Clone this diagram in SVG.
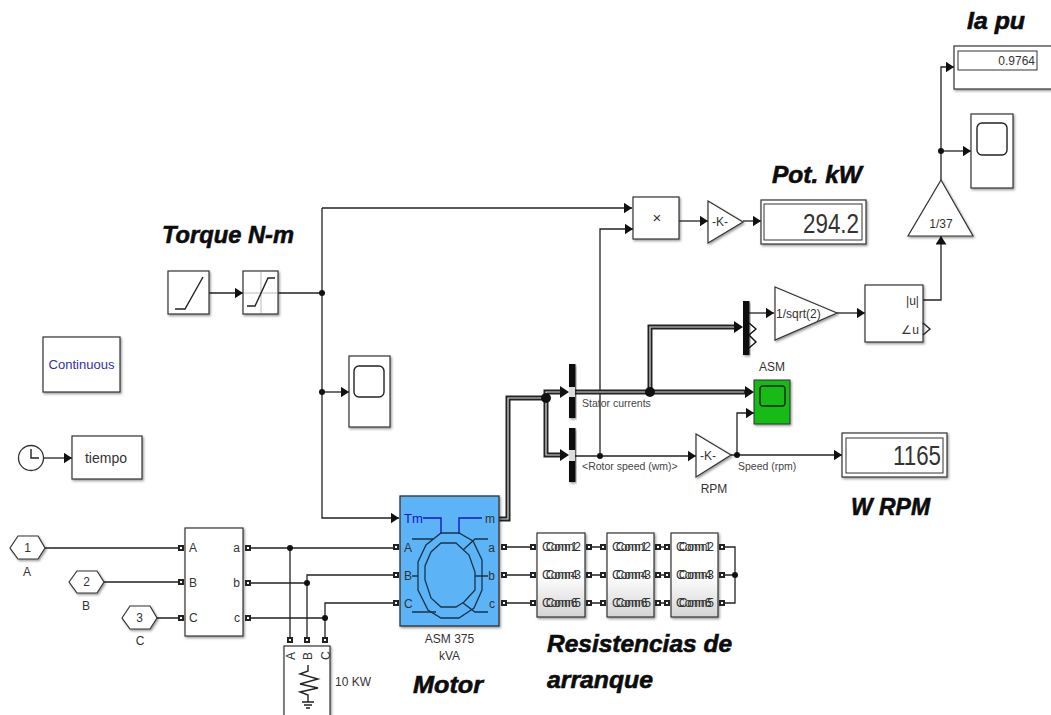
<svg xmlns="http://www.w3.org/2000/svg" width="1051" height="715" viewBox="0 0 1051 715">
<defs>
<marker id="a" markerUnits="userSpaceOnUse" markerWidth="9" markerHeight="11" refX="8.500" refY="5.500" orient="auto"><path d="M0 0L8.500 5.500L0 11Z" fill="#111"/></marker>
<filter id="s" x="-10%" y="-10%" width="125%" height="125%"><feDropShadow dx="1.200" dy="1.500" stdDeviation="1" flood-color="#000" flood-opacity=".4"/></filter>
<linearGradient id="g" x1="0" y1="0" x2="0" y2="1"><stop offset=".5" stop-color="#fff"/><stop offset="1" stop-color="#d4d4d4"/></linearGradient>
<g id="port"><rect x="-3" y="-3" width="6" height="6" fill="#222"/><rect x="-1" y="-1" width="2" height="2" fill="#fff"/></g>
</defs>
<style>
text{font-family:"Liberation Sans",Arial,sans-serif;fill:#333}
.b{fill:#fff;stroke:#333;stroke-width:1.200;filter:url(#s)}
.w{fill:none;stroke:#222;stroke-width:1.300}
.bus{fill:none;stroke:#222;stroke-width:5}
.bus2{fill:none;stroke:#ddd;stroke-width:1.200}
.t{font-size:12px}
.s{font-size:10.500px;fill:#444}
.h{font-weight:700;font-style:italic;font-size:24px;fill:#0c0c0c;stroke:#0c0c0c;stroke-width:.6}
.m{text-anchor:middle}
.e{text-anchor:end}
.j{fill:#111}
.mux{fill:#111;filter:url(#s)}
.r{fill:url(#g);stroke:#333;stroke-width:1.200;filter:url(#s)}
.o{fill:none;stroke:#222;stroke-width:1.400}
</style>

<g id="connectors">
<path class="w" d="M278 293H322M322 208H632" marker-end="url(#a)"/>
<path class="w" d="M322 208V518H399" marker-end="url(#a)"/>
<path class="w" d="M209 293H243" marker-end="url(#a)"/>
<path class="w" d="M322 392H349" marker-end="url(#a)"/>
<path class="w" d="M600 456V229H633" marker-end="url(#a)"/>
<path class="w" d="M679 221H708" marker-end="url(#a)"/>
<path class="w" d="M743 221H761" marker-end="url(#a)"/>
<path class="w" d="M749 313H774" marker-end="url(#a)"/>
<path class="w" d="M837 313H865" marker-end="url(#a)"/>
<path class="w" d="M923 300H941V236" marker-end="url(#a)"/>
<path class="w" d="M941 180V67H954" marker-end="url(#a)"/>
<path class="w" d="M941 151H971" marker-end="url(#a)"/>
<path class="w" d="M45 548H181M104 582H181M157 618H181"/>
<path class="w" d="M248 548H396M248 583H307V575H396M248 618H325V603H396"/>
<path class="w" d="M290 548V640M307 583V640M325 618V640"/>
<path class="w" d="M504 547H533M504 575H533M504 603H533M589 547H603M589 575H603M589 603H603M658 547H667M658 575H667M658 603H667M722 547H735V603H722M722 575H735"/>
<path class="w" d="M575 456H696" marker-end="url(#a)"/>
<path class="w" d="M731 455H842" marker-end="url(#a)"/>
<path class="w" d="M737 455V413H754" marker-end="url(#a)"/>
<path class="bus" d="M499 519H508V398H546V392H561M546 398V455H561"/>
<path class="bus" d="M575 392H746M650 392V327H736"/>
<path class="bus2" d="M499 519H508V398H546V392H560M546 398V455H560"/>
<path class="bus2" d="M575 392H744M650 392V327H734"/>
<path d="M560 386L569 392L560 398ZM560 449L569 455L560 461ZM734 321L743 327L734 333ZM745 386L754 392L745 398Z" fill="#111"/>
<circle class="j" cx="322" cy="293" r="3"/><circle class="j" cx="322" cy="392" r="3"/>
<circle class="j" cx="600" cy="456" r="3"/><circle class="j" cx="737" cy="455" r="3"/>
<circle class="j" cx="941" cy="151" r="3"/><circle class="j" cx="546" cy="398" r="5"/>
<circle class="j" cx="650" cy="392" r="5"/><circle class="j" cx="290" cy="548" r="3"/>
<circle class="j" cx="307" cy="583" r="3"/><circle class="j" cx="325" cy="618" r="3"/>
<circle class="j" cx="735" cy="575" r="3"/>
</g>

<g id="torque-label"><text class="h" x="162" y="243" textLength="132" lengthAdjust="spacingAndGlyphs">Torque N-m</text></g>
<g id="ramp"><rect class="b" x="168" y="271" width="41" height="43"/><path class="o" d="M175 309H185L203 277"/></g>
<g id="saturation"><rect class="b" x="243" y="271" width="35" height="43"/><path d="M261 272V313M244 293H277" stroke="#bbb" fill="none"/><path class="o" d="M247 306H255L268 278H275"/></g>
<g id="scope-torque"><rect class="b" x="349" y="356" width="41" height="71"/><rect x="354" y="366" width="30" height="31" rx="5" class="o"/></g>
<g id="continuous"><rect class="b" x="43" y="337" width="77" height="55"/><text x="81.500" y="369" font-size="13" class="m" style="fill:#3030b0">Continuous</text></g>
<g id="clock"><circle cx="31" cy="458" r="12.500" fill="#fff" stroke="#333" stroke-width="1.300"/><path class="o" d="M31 449V458H39"/><path class="w" d="M44 458H72" marker-end="url(#a)"/></g>
<g id="tiempo"><rect class="b" x="72" y="436" width="70" height="43"/><text x="106" y="463" font-size="14" class="m">tiempo</text></g>

<g id="in-1"><path class="b" d="M10 548L18 536H38L45 548L38 559H18Z"/><text x="27.500" y="552" class="t m">1</text><text x="27" y="576" class="t m">A</text></g>
<g id="in-2"><path class="b" d="M69 582L77 571H97L104 582L97 593H77Z"/><text x="86.500" y="586" class="t m">2</text><text x="86" y="610" class="t m">B</text></g>
<g id="in-3"><path class="b" d="M122 618L130 606H150L157 618L150 629H130Z"/><text x="139.500" y="622" class="t m">3</text><text x="140" y="645" class="t m">C</text></g>

<g id="breaker"><rect class="b" x="185" y="528" width="58" height="108"/>
<text x="189" y="552" class="t">A</text><text x="189" y="587" class="t">B</text><text x="189" y="622" class="t">C</text>
<text x="240" y="552" class="t e">a</text><text x="240" y="587" class="t e">b</text><text x="240" y="622" class="t e">c</text>
<use href="#port" x="181" y="548"/><use href="#port" x="181" y="582"/><use href="#port" x="181" y="618"/><use href="#port" x="248" y="548"/><use href="#port" x="248" y="583"/><use href="#port" x="248" y="618"/></g>

<g id="load"><rect class="b" x="284" y="646" width="46" height="75"/>
<use href="#port" x="290" y="640"/><use href="#port" x="307" y="640"/><use href="#port" x="325" y="640"/>
<text transform="translate(294.500 660) rotate(-90)" class="t">A</text><text transform="translate(311.500 660) rotate(-90)" class="t">B</text><text transform="translate(329.500 660) rotate(-90)" class="t">C</text>
<path class="o" d="M308 665V671L300 674L318 679L300 684L318 688L300 692L308 695V702M302 702H314M304 705H312M306 708H310"/>
<text x="335" y="686" class="t">10 KW</text></g>

<g id="motor"><rect x="400" y="496" width="99" height="130" fill="#5cb3f5" stroke="#333" stroke-width="1.300" filter="url(#s)"/>
<text x="404" y="523" font-size="13" style="fill:#1616c8">Tm</text>
<path d="M423 518H441V534M459 534V518H482" fill="none" stroke="#1616c8" stroke-width="1.400"/>
<text x="495" y="523" class="t e">m</text><text x="404" y="552" class="t">A</text><text x="404" y="580" class="t">B</text><text x="404" y="608" class="t">C</text>
<text x="495" y="552" class="t e">a</text><text x="495" y="580" class="t e">b</text><text x="495" y="608" class="t e">c</text>
<use href="#port" x="396" y="547"/><use href="#port" x="396" y="575"/><use href="#port" x="396" y="603"/><use href="#port" x="504" y="547"/><use href="#port" x="504" y="575"/><use href="#port" x="504" y="603"/>
<g fill="none" stroke="#16344c" stroke-width="1.300"><path d="M441 533H459L473 541L482 560V590L474 608L459 618H441L428 610L418 590V562L426 545Z"/><path d="M441 543H456L469 555L475 572V590L464 602L456 607H441L431 598L425 580V566L431 552Z"/><path d="M412 539H433M412 612H436M463 550L475 539H488M463 603L475 612H488M412 576H418M475 576H488"/></g>
<text x="449.500" y="643" class="t m">ASM 375</text><text x="449.500" y="660" class="t m">kVA</text></g>
<g id="motor-label"><text class="h" x="413" y="693" textLength="70" lengthAdjust="spacingAndGlyphs">Motor</text></g>

<g id="res-1"><rect class="r" x="537" y="533" width="48" height="84"/><text x="542" y="551" class="t">Conn1</text><text x="581" y="551" class="t e">Conn2</text><text x="542" y="579" class="t">Conn4</text><text x="581" y="579" class="t e">Conn3</text><text x="542" y="607" class="t">Conn6</text><text x="581" y="607" class="t e">Conn5</text><use href="#port" x="533" y="547"/><use href="#port" x="533" y="575"/><use href="#port" x="533" y="603"/><use href="#port" x="589" y="547"/><use href="#port" x="589" y="575"/><use href="#port" x="589" y="603"/></g>
<g id="res-2"><rect class="r" x="607" y="533" width="47" height="84"/><text x="612" y="551" class="t">Conn1</text><text x="651" y="551" class="t e">Conn2</text><text x="612" y="579" class="t">Conn4</text><text x="651" y="579" class="t e">Conn3</text><text x="612" y="607" class="t">Conn6</text><text x="651" y="607" class="t e">Conn5</text><use href="#port" x="603" y="547"/><use href="#port" x="603" y="575"/><use href="#port" x="603" y="603"/><use href="#port" x="658" y="547"/><use href="#port" x="658" y="575"/><use href="#port" x="658" y="603"/></g>
<g id="res-3"><rect class="r" x="671" y="533" width="47" height="84"/><text x="676" y="551" class="t">Conn1</text><text x="714" y="551" class="t e">Conn2</text><text x="676" y="579" class="t">Conn4</text><text x="714" y="579" class="t e">Conn3</text><text x="676" y="607" class="t">Conn6</text><text x="714" y="607" class="t e">Conn5</text><use href="#port" x="667" y="547"/><use href="#port" x="667" y="575"/><use href="#port" x="667" y="603"/><use href="#port" x="722" y="547"/><use href="#port" x="722" y="575"/><use href="#port" x="722" y="603"/></g>
<g id="res-label"><text class="h" x="547" y="652" textLength="185" lengthAdjust="spacingAndGlyphs">Resistencias de</text><text class="h" x="547" y="688" textLength="106" lengthAdjust="spacingAndGlyphs">arranque</text></g>

<g id="demux-1"><rect class="mux" x="569" y="364" width="6.500" height="54"/><rect x="569" y="387" width="6" height="10" fill="#ddd"/></g>
<g id="demux-2"><rect class="mux" x="569" y="428" width="6.500" height="54"/><rect x="569" y="450" width="6" height="11" fill="#ddd"/></g>
<g id="stator-label"><text x="582" y="407" class="s">Stator currents</text></g>
<g id="rotor-label"><text x="582" y="470" class="s">&lt;Rotor speed (wm)&gt;</text></g>
<g id="product"><rect class="b" x="633" y="197" width="46" height="42"/><text x="657" y="223" font-size="15" class="m">×</text></g>
<g id="gain-k"><path class="b" d="M708 201L743 222L708 243Z"/><text x="712" y="226" class="t">-K-</text></g>
<g id="display-pot"><rect class="b" x="761" y="200" width="105" height="44"/><rect x="764" y="204" width="98" height="36" fill="none" stroke="#333"/><text x="803" y="233" font-size="27" textLength="56" lengthAdjust="spacingAndGlyphs">294.2</text></g>
<g id="pot-label"><text class="h" x="772" y="183" textLength="90" lengthAdjust="spacingAndGlyphs">Pot. kW</text></g>
<g id="mux-3"><rect class="mux" x="743" y="301" width="6.500" height="54"/><path d="M749 323L756 329L749 335L756 342L749 348" fill="none" stroke="#111" stroke-width="1.400"/></g>
<g id="gain-sqrt"><path class="b" d="M775 287L837 313L775 340Z"/><text x="776" y="318" class="t">1/sqrt(2)</text></g>
<g id="complex"><rect class="b" x="865" y="285" width="58" height="57"/><text x="919" y="305" class="t e">|u|</text><text x="919" y="334" class="t e">∠u</text><path d="M923 323L930 329L923 335" fill="none" stroke="#222" stroke-width="1.400"/></g>
<g id="gain-37"><path class="b" d="M941 180L973 236H908Z"/><text x="941" y="228" class="t m">1/37</text></g>
<g id="scope-ia"><rect class="b" x="971" y="114" width="42" height="74"/><rect x="977" y="123" width="30" height="32" rx="5" class="o"/></g>
<g id="display-ia"><rect class="b" x="954" y="46" width="100" height="43"/><rect x="958" y="51" width="79" height="19" fill="#fff" stroke="#333"/><text x="1035" y="65" class="t e">0.9764</text></g>
<g id="ia-label"><text class="h" x="967" y="29" textLength="58" lengthAdjust="spacingAndGlyphs">Ia pu</text></g>
<g id="asm-scope"><rect x="754" y="380" width="36" height="44" fill="#14bb14" stroke="#333" filter="url(#s)"/><rect x="760" y="386" width="25" height="20" rx="3" fill="none" stroke="#222" stroke-width="1.400"/><text x="772" y="371" class="t m">ASM</text></g>
<g id="gain-rpm"><path class="b" d="M696 434L731 455L696 477Z"/><text x="700" y="460" class="t">-K-</text><text x="714" y="493" class="t m">RPM</text></g>
<g id="speed-label"><text x="738" y="470" class="s">Speed (rpm)</text></g>
<g id="display-w"><rect class="b" x="842" y="433" width="105" height="44"/><rect x="846" y="438" width="97" height="35" fill="none" stroke="#333"/><text x="893" y="465" font-size="27" textLength="48" lengthAdjust="spacingAndGlyphs">1165</text></g>
<g id="w-label"><text class="h" x="851" y="515" textLength="79" lengthAdjust="spacingAndGlyphs">W RPM</text></g>
</svg>
